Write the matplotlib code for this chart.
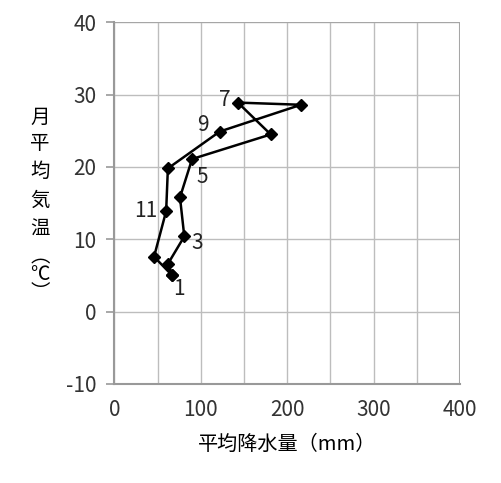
import matplotlib.pyplot as plt

plt.rcParams["font.family"] = ["Noto Sans CJK JP", "DejaVu Sans"]
plt.rcParams["axes.unicode_minus"] = False

# monthly mean precipitation (mm) and temperature (deg C), Jan..Dec
months = [1, 2, 3, 4, 5, 6, 7, 8, 9, 10, 11, 12]
precip = [67, 62, 81, 76, 90, 181, 143, 216, 122, 62, 60, 46]
temp = [5.0, 6.6, 10.4, 15.8, 21.1, 24.5, 28.9, 28.6, 24.9, 19.8, 13.9, 7.6]
labeled = [1, 3, 5, 7, 9, 11]
label_offsets = {1: (1, -10), 3: (5, -5), 5: (3, -13), 7: (-5, 2), 9: (-8, 5), 11: (-6, 0)}
ylabel_chars = ["月", "平", "均", "気", "温"]
ylabel_pos = [117, 143, 171, 200, 229]

fig = plt.figure(figsize=(5.01, 4.83), dpi=100)
ax = fig.add_axes([114.3 / 501, 1 - 384 / 483, 345.7 / 501, 361.7 / 483])

ax.plot(precip + precip[:1], temp + temp[:1], color="black", lw=1.8,
        marker="D", ms=6, mfc="black", mec="black", zorder=3)

for m in labeled:
    i = months.index(m)
    dx, dy = label_offsets[m]
    ha = "right" if dx < 0 else "left"
    ax.annotate(str(m), (precip[i], temp[i]), xytext=(dx, dy), textcoords="offset points",
                ha=ha, va="center", fontsize=15, color="#222222")

ax.set_xlim(0, 400)
ax.set_ylim(-10, 40)
ax.set_xticks(range(0, 401, 100))
ax.set_xticks(range(0, 401, 50), minor=True)
ax.set_yticks(range(-10, 41, 10))
ax.grid(True, which="both", color="#bdbdbd", lw=1.0)
ax.axhline(40, color="#a6a6a6", lw=1.5)
ax.axvline(400, color="#a6a6a6", lw=1.5)

for s in ["top", "right"]:
    ax.spines[s].set_visible(False)
for s in ["left", "bottom"]:
    ax.spines[s].set_color("#999999")
    ax.spines[s].set_linewidth(1.5)

ax.tick_params(axis="y", length=6, width=1.2, color="#999999", labelsize=15, pad=7,
               labelcolor="#333333")
ax.tick_params(axis="x", which="both", length=0, labelsize=15, pad=11, labelcolor="#333333")

ax.set_xlabel("平均降水量（mm）", fontsize=14.5, labelpad=9)
for ch, py in zip(ylabel_chars, ylabel_pos):
    fig.text(40 / 501, 1 - py / 483, ch, ha="center", va="center", fontsize=14)
fig.text(40 / 501, 1 - 275 / 483, "︵\n℃\n︶", ha="center", va="center",
         fontsize=14, linespacing=0.8)

fig.savefig("out.png", dpi=100)
